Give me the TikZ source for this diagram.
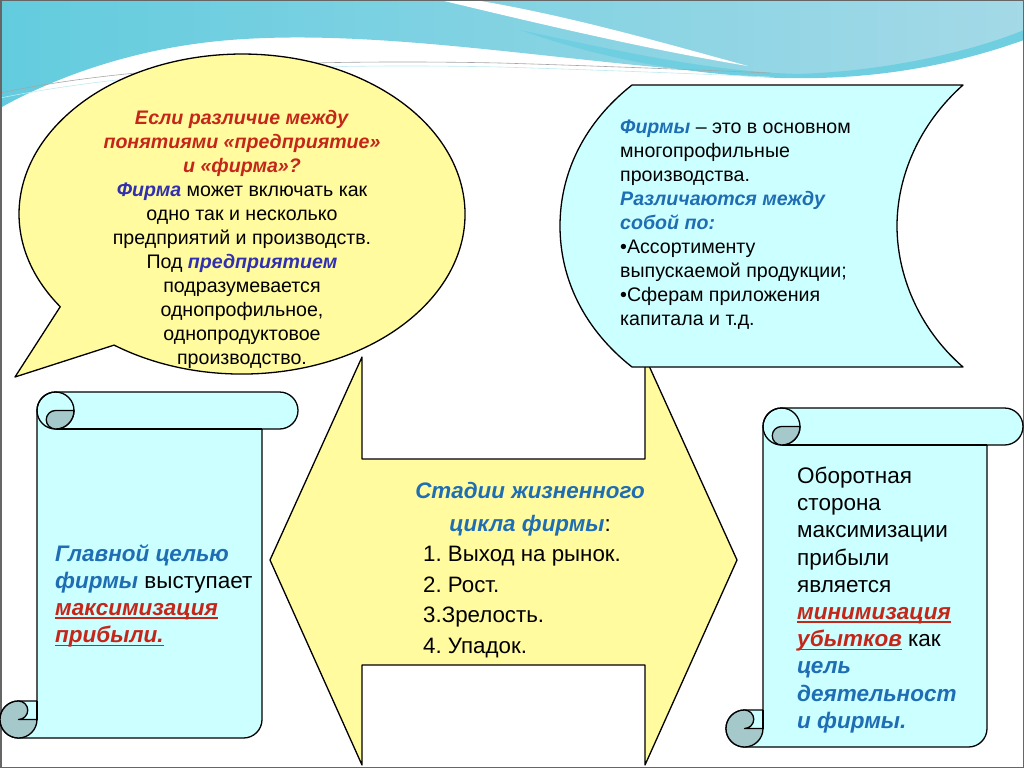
\documentclass[tikz,border=0pt]{standalone}
\usepackage{fontspec}
\setmainfont{Liberation Sans}
\frenchspacing
\newcommand\redbi[1]{\textcolor{txtred}{\textbf{\textit{#1}}}}
\newcommand\redul[1]{\textcolor{txtred}{\setbox0\hbox{\textbf{\textit{#1}}}\rlap{\raisebox{-3.2pt}{\rule{\wd0}{1.4pt}}}\box0}}
\newcommand\bluebi[1]{\textcolor{txtblue}{\textbf{\textit{#1}}}}
\newcommand\indbi[1]{\textcolor{txtind}{\textbf{\textit{#1}}}}
\begin{document}
\begin{tikzpicture}[x=1pt, y=-1pt,
  outline/.style = {draw = black, line width = 1.3pt, line join = round},
  yellowbox/.style = {outline, fill = fillyellow},
  cyanbox/.style = {outline, fill = fillcyan},
  curl/.style = {outline, fill = curlgray},
  smalltxt/.style = {inner sep = 0pt, font = \fontsize{19.6}{24}\selectfont},
  bigtxt/.style = {inner sep = 0pt, font = \fontsize{22.5}{27.2}\selectfont}]
\definecolor{fillyellow}{HTML}{FFFB9E}
\definecolor{fillcyan}{HTML}{CCFFFF}
\definecolor{curlgray}{HTML}{A5C8CB}
\definecolor{txtred}{HTML}{C4261A}
\definecolor{txtblue}{HTML}{1F6EB4}
\definecolor{txtind}{HTML}{3030B0}
\definecolor{wavea}{HTML}{62CCDE}
\definecolor{waveb}{HTML}{A4D9E7}
\pgfmathsetmacro\rad{18.5}
\useasboundingbox (0,0) rectangle (1024,768);
\fill[white] (0,0) rectangle (1024,768);
\begin{scope}
\clip (0,0) rectangle (1024,768);
\shade[left color = wavea, right color = waveb] (0,0) -- (1024,0) -- (1024,38) .. controls (920,70) and (830,80) .. (740,74) .. controls (560,62) and (380,28) .. (230,40) .. controls (130,48) and (50,80) .. (0,108) -- cycle;
\fill[white] (440,0) -- (475,0) .. controls (570,16) and (660,42) .. (748,66) .. controls (650,50) and (540,24) .. (440,0) -- cycle;
\fill[wavea!80!waveb] (520,30) .. controls (640,56) and (720,72) .. (800,74) .. controls (900,70) and (980,48) .. (1024,30) -- (1024,40) .. controls (940,70) and (860,80) .. (780,78) .. controls (680,74) and (600,58) .. (520,30) -- cycle;
\draw[gray!70, line width = 0.6pt] (0,93) .. controls (100,72) and (250,58) .. (500,63) .. controls (600,66) and (700,70) .. (770,73);
\draw[white!60!wavea, line width = 0.6pt] (0,98) .. controls (110,76) and (260,62) .. (500,67) .. controls (600,70) and (700,74) .. (770,77);
\end{scope}
\draw[gray!80!black, line width = 1.5pt] (0.75,0.75) rectangle (1023.25,767.25);
\draw[yellowbox] (270,560) -- (362,357) -- (362,459) -- (645,459) -- (645,357) -- (737,560) -- (645,765) -- (645,665) -- (362,665) -- (362,765) -- cycle;
\draw[yellowbox] (15,377) -- (114.1,345.1) arc[start angle = 125, end angle = -215.4, x radius = 223, y radius = 160] -- cycle;
\draw[cyanbox] (632,85) -- (963,85) .. controls (918,125) and (897,178) .. (897,226) .. controls (897,274) and (918,328) .. (963,367) -- (632,367) .. controls (585,330) and (560,280) .. (560,226) .. controls (560,172) and (585,122) .. (632,85) -- cycle;
\foreach \L/\R/\T/\B/\E in {37/262/392/738/298, 763/987/408/747/1023} {
  \draw[cyanbox] (\L+\rad,\T) -- (\E-\rad,\T) arc (270:450:\rad) -- (\R,\T+2*\rad) -- (\R,\B-\rad) arc (0:90:\rad) -- (\L-\rad,\B) arc (90:270:\rad) -- (\L,\B-2*\rad) -- (\L,\T+\rad) arc (180:270:\rad) -- cycle;
  \draw[outline] (\L+\rad,\T+\rad) circle (\rad);
  \draw[outline] (\L+\rad,\T+2*\rad) -- (\R,\T+2*\rad);
  \draw[curl] (\L+\rad,\T+\rad) -- (\L+2*\rad,\T+\rad) arc (0:90:\rad) arc (90:270:\rad/2) -- cycle;
  \draw[curl] (\L-\rad,\B-2*\rad) arc (270:450:\rad/2) -- (\L,\B-\rad) arc (0:270:\rad) -- cycle;
  \draw[outline] (\L,\B-2*\rad) -- (\L,\B-\rad);
}
\node[smalltxt, align = center] (bubbletext) at (242,239) {\redbi{Если различие между}\\\redbi{понятиями «предприятие»}\\\redbi{и «фирма»?}\\\indbi{Фирма} может включать как\\одно так и несколько\\предприятий и производств.\\Под \indbi{предприятием}\\подразумевается\\однопрофильное,\\однопродуктовое\\производство.};
\node[smalltxt, align = left, anchor = west] (firmtext) at (620,225) {\bluebi{Фирмы} – это в основном\\многопрофильные\\производства.\\\bluebi{Различаются между}\\\bluebi{собой по:}\\•Ассортименту\\выпускаемой продукции;\\•Сферам приложения\\капитала и т.д.};
\node[inner sep = 0pt, font = \fontsize{22.4}{33}\selectfont, align = center] (stagetitle) at (530,509) {\bluebi{Стадии жизненного}\\\bluebi{цикла фирмы}:};
\node[inner sep = 0pt, font = \fontsize{22.3}{30.5}\selectfont, align = left, anchor = west] (stagelist) at (423,602) {1. Выход на рынок.\\2. Рост.\\3.Зрелость.\\4. Упадок.};
\node[bigtxt, align = left, anchor = west] (goaltext) at (55,596) {\bluebi{Главной целью}\\\bluebi{фирмы} выступает\\\redul{максимизация}\\\redul{прибыли.}};
\node[bigtxt, align = left, anchor = west] (losstext) at (797,600) {Оборотная\\сторона\\максимизации\\прибыли\\является\\\redul{минимизация}\\\redul{убытков} как\\\bluebi{цель}\\\bluebi{деятельност}\\\bluebi{и фирмы.}};
\end{tikzpicture}
\end{document}
